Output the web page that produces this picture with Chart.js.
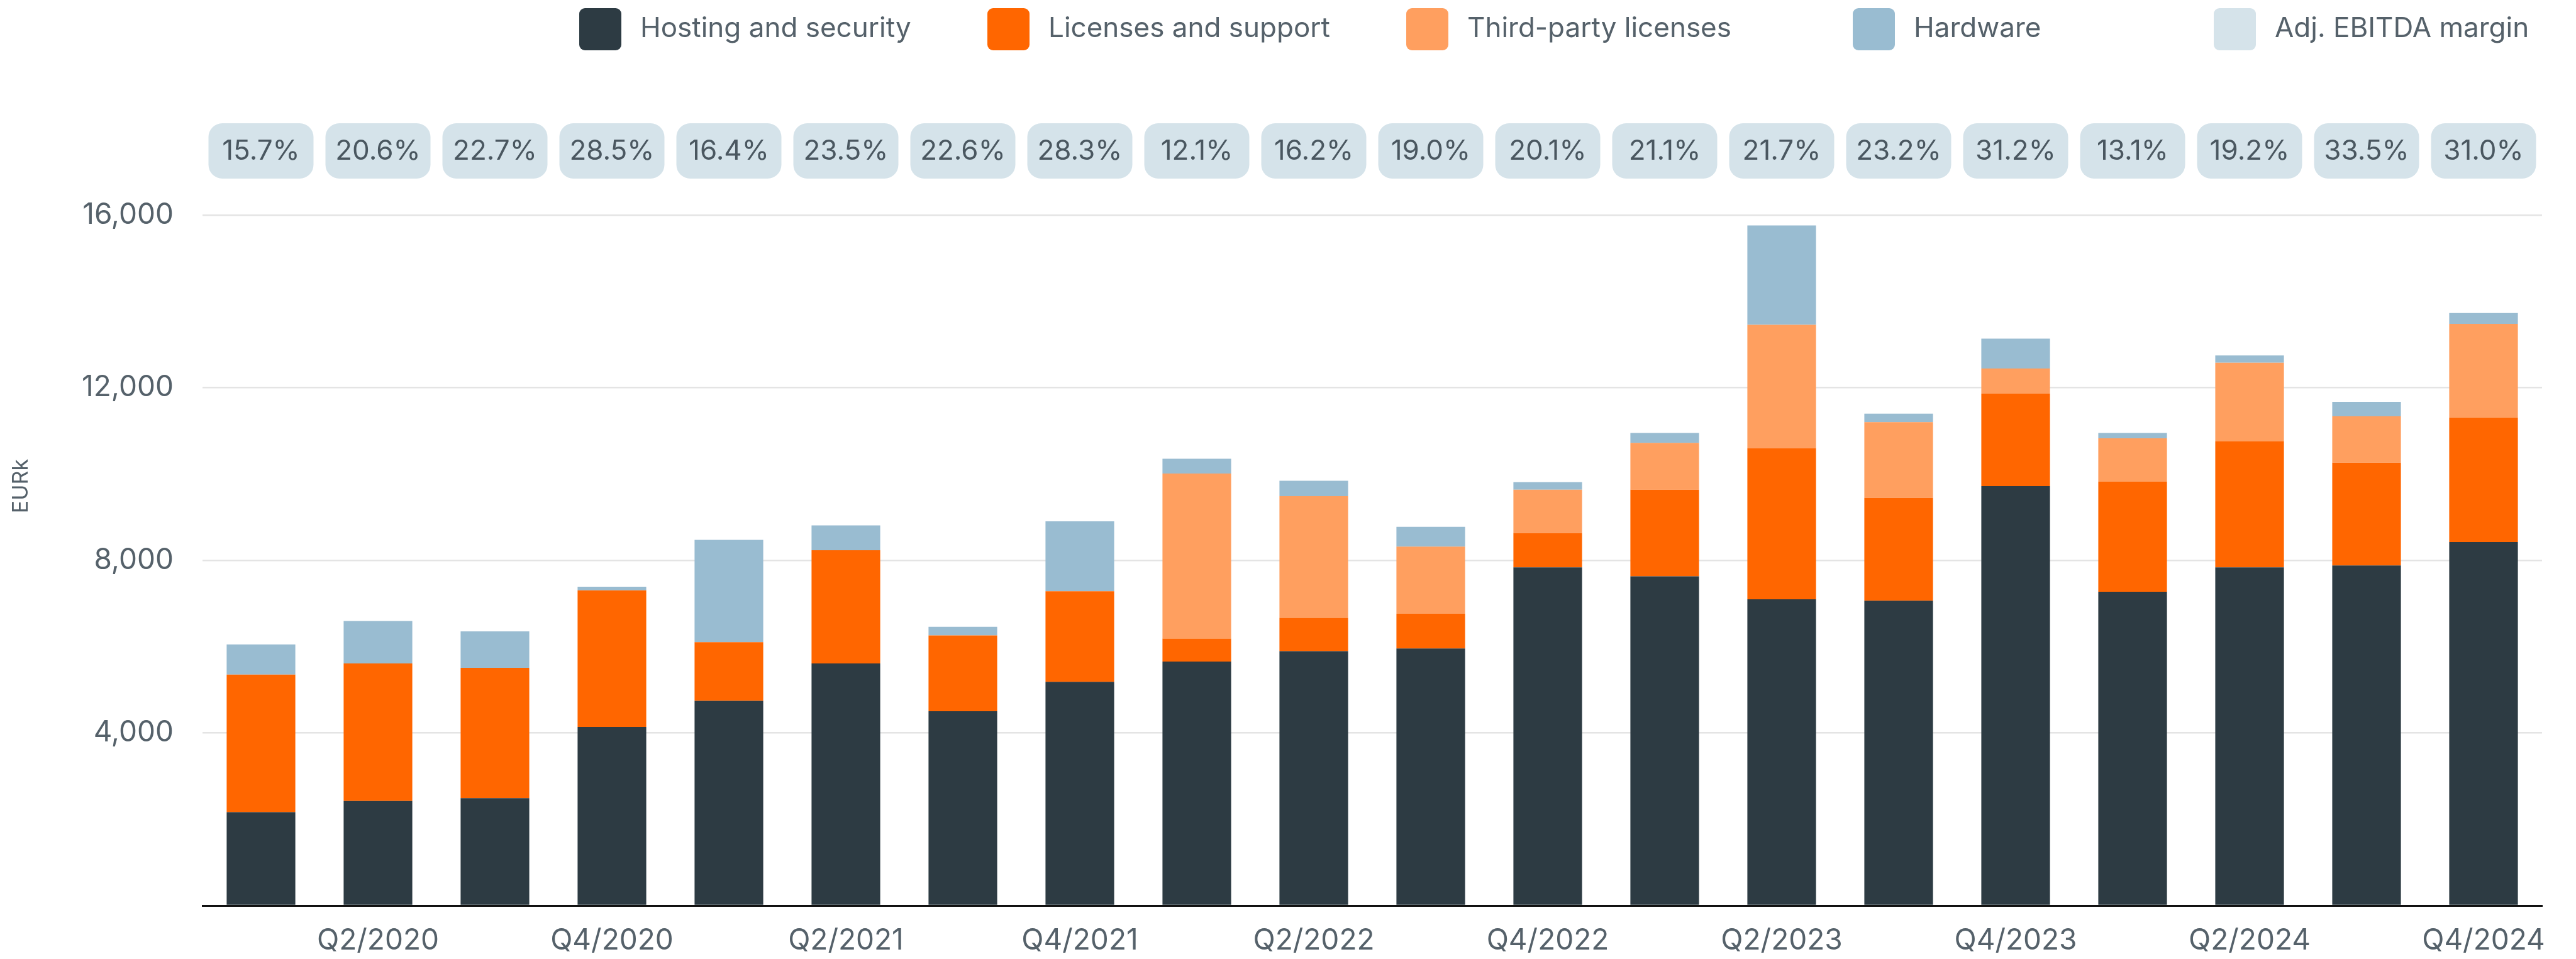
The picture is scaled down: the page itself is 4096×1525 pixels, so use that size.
<!DOCTYPE html>
<html>
<head>
<meta charset="utf-8">
<title>Cost of sales by quarter</title>
<script src="https://cdn.jsdelivr.net/npm/chart.js@4.4.1/dist/chart.umd.min.js"></script>
<style>
  html, body { margin: 0; padding: 0; background: #fff; }
  #wrap { width: 4096px; height: 1525px; }
</style>
</head>
<body>
<div id="wrap"><canvas id="costs"></canvas></div>
<script>
const quarters = [
  'Q1/2020', 'Q2/2020', 'Q3/2020', 'Q4/2020',
  'Q1/2021', 'Q2/2021', 'Q3/2021', 'Q4/2021',
  'Q1/2022', 'Q2/2022', 'Q3/2022', 'Q4/2022',
  'Q1/2023', 'Q2/2023', 'Q3/2023', 'Q4/2023',
  'Q1/2024', 'Q2/2024', 'Q3/2024', 'Q4/2024',
];

// EURk per quarter
const hostingSecurity = [2163, 2424, 2487, 4138, 4744, 5611, 4504, 5183, 5653, 5893, 5956, 7837, 7628, 7095, 7064, 9718, 7273, 7837, 7879, 8422];
const licensesSupport = [3187, 3187, 3020, 3166, 1358, 2623, 1755, 2100, 533, 774, 805, 794, 2006, 3501, 2382, 2142, 2549, 2926, 2382, 2884];
const thirdPartyLicenses = [0, 0, 0, 0, 0, 0, 0, 0, 3824, 2821, 1557, 1003, 1087, 2863, 1756, 585, 1004, 1818, 1077, 2174];
const hardware = [700, 983, 846, 84, 2372, 575, 199, 1620, 345, 355, 459, 178, 230, 2299, 198, 690, 125, 167, 334, 250];

// Adj. EBITDA margin, %
const ebitdaMargin = [15.7, 20.6, 22.7, 28.5, 16.4, 23.5, 22.6, 28.3, 12.1, 16.2, 19.0, 20.1, 21.1, 21.7, 23.2, 31.2, 13.1, 19.2, 33.5, 31.0];

const yTicks = [4000, 8000, 12000, 16000];

const COLORS = {
  hosting: '#2d3b43',
  licenses: '#ff6600',
  thirdParty: '#ff9f5f',
  hardware: '#99bcd1',
  margin: '#d5e3ea',
  text: '#55616a',
  pillText: '#4a5760',
};

const FONT = 'Inter, Roboto, "Noto Sans", sans-serif';

const legendItems = [
  { label: 'Hosting and security', color: COLORS.hosting, x: 921 },
  { label: 'Licenses and support', color: COLORS.licenses, x: 1570 },
  { label: 'Third-party licenses', color: COLORS.thirdParty, x: 2236 },
  { label: 'Hardware', color: COLORS.hardware, x: 2946 },
  { label: 'Adj. EBITDA margin', color: COLORS.margin, x: 3520 },
];

function roundRect(ctx, x, y, w, h, r) {
  ctx.beginPath();
  ctx.moveTo(x + r, y);
  ctx.arcTo(x + w, y, x + w, y + h, r);
  ctx.arcTo(x + w, y + h, x, y + h, r);
  ctx.arcTo(x, y + h, x, y, r);
  ctx.arcTo(x, y, x + w, y, r);
  ctx.closePath();
}

// legend row on top, custom spacing
const topLegend = {
  id: 'topLegend',
  afterDraw(chart) {
    const { ctx } = chart;
    ctx.save();
    legendItems.forEach((item) => {
      ctx.fillStyle = item.color;
      roundRect(ctx, item.x, 13, 67, 67, 9);
      ctx.fill();
      ctx.fillStyle = COLORS.text;
      ctx.font = `400 44px ${FONT}`;
      ctx.textAlign = 'left';
      ctx.textBaseline = 'middle';
      ctx.fillText(item.label, item.x + 67 + 30, 46);
    });
    ctx.restore();
  },
};

// margin badges above every quarter
const marginPills = {
  id: 'marginPills',
  afterDraw(chart) {
    const { ctx } = chart;
    const xScale = chart.scales.x;
    ctx.save();
    ebitdaMargin.forEach((m, i) => {
      const cx = xScale.getPixelForValue(i);
      const w = 167;
      const h = 88;
      ctx.fillStyle = COLORS.margin;
      roundRect(ctx, cx - w / 2, 196, w, h, 22);
      ctx.fill();
      ctx.fillStyle = COLORS.pillText;
      ctx.font = `400 44px ${FONT}`;
      ctx.textAlign = 'center';
      ctx.textBaseline = 'middle';
      ctx.fillText(`${m.toFixed(1)}%`, cx, 241);
    });
    // unit label on the left
    ctx.translate(34, 773);
    ctx.rotate(-Math.PI / 2);
    ctx.fillStyle = COLORS.text;
    ctx.font = `400 34px ${FONT}`;
    ctx.textAlign = 'center';
    ctx.textBaseline = 'middle';
    ctx.fillText('EURk', 0, 0);
    ctx.restore();
  },
};

const makeSet = (label, data, color) => ({
  label,
  data,
  backgroundColor: color,
  borderWidth: 0,
  barPercentage: 0.587,
  categoryPercentage: 1,
});

const chart = new Chart(document.getElementById('costs'), {
  type: 'bar',
  data: {
    labels: quarters,
    datasets: [
      makeSet('Hosting and security', hostingSecurity, COLORS.hosting),
      makeSet('Licenses and support', licensesSupport, COLORS.licenses),
      makeSet('Third-party licenses', thirdPartyLicenses, COLORS.thirdParty),
      makeSet('Hardware', hardware, COLORS.hardware),
    ],
  },
  options: {
    responsive: true,
    maintainAspectRatio: false,
    animation: false,
    devicePixelRatio: 1,
    layout: { padding: { top: 342, right: 54, left: 0, bottom: 0 } },
    plugins: {
      legend: { display: false },
      tooltip: { enabled: false },
    },
    scales: {
      x: {
        stacked: true,
        grid: { display: false, drawTicks: false },
        border: { display: true, color: '#111111', width: 3 },
        ticks: {
          autoSkip: false,
          maxRotation: 0,
          padding: 29,
          color: COLORS.text,
          font: { family: FONT, size: 46 },
          callback: (v, i) => (i % 2 === 1 ? quarters[i] : ''),
        },
        afterFit: (scale) => { scale.height = 85; },
      },
      y: {
        stacked: true,
        min: 0,
        max: 16000,
        afterBuildTicks: (scale) => { scale.ticks = [0, ...yTicks].map((v) => ({ value: v })); },
        grid: {
          drawTicks: false,
          lineWidth: 2.5,
          color: (c) => (c.tick && c.tick.value === 0 ? 'rgba(0,0,0,0)' : '#e4e4e4'),
        },
        border: { display: false },
        ticks: {
          padding: 46,
          color: COLORS.text,
          font: { family: FONT, size: 46 },
          callback: (v) => (v === 0 ? '' : v.toLocaleString('en-US')),
        },
        afterFit: (scale) => { scale.width = 322; },
      },
    },
  },
  plugins: [topLegend, marginPills],
});
</script>
</body>
</html>
